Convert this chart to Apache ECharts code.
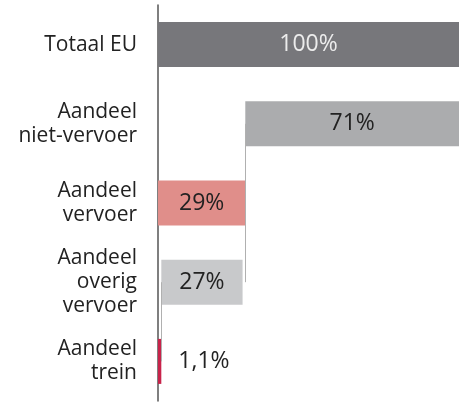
<!DOCTYPE html>
<html>
<head>
<meta charset="utf-8">
<script src="https://cdn.jsdelivr.net/npm/echarts@6/dist/echarts.min.js"></script>
<style>html,body{margin:0;padding:0;background:#fff}#c{width:459px;height:404px}</style>
</head>
<body>
<div id="c"></div>
<script>
const categories = ['Totaal EU', 'Aandeel\nniet-vervoer', 'Aandeel\nvervoer', 'Aandeel\noverig\nvervoer', 'Aandeel\ntrein'];
const values = [100, 71, 29, 27, 1.1];
const offsets = [0, 29, 0, 1.1, 0];
const barColors = ['#77777b', '#abacae', '#e08e8a', '#c8c9cb', '#c8234a'];
const labelColors = ['#ececec', '#222222', '#222222', '#222222', '#222222'];

const chart = echarts.init(document.getElementById('c'), null, {renderer: 'canvas'});
const font = '"Open Sans", "Noto Sans", sans-serif';

const connectors = [
  [[offsets[1], categories[1]], [values[2], categories[2]]],
  [[values[2], categories[2]], [offsets[1], categories[3]]],
  [[offsets[3], categories[3]], [values[4], categories[4]]]
];

chart.setOption({
  animation: false,
  grid: {left: 158, right: 0, top: 5, bottom: 3, containLabel: false},
  xAxis: {type: 'value', min: 0, max: 100, show: false},
  yAxis: {
    type: 'category', data: categories, inverse: true,
    axisLine: {show: true, lineStyle: {color: '#555', width: 1.5}},
    axisTick: {show: false},
    axisLabel: {fontFamily: font, fontSize: 21, lineHeight: 24, color: '#222', margin: 21, align: 'right'}
  },
  series: [
    {
      type: 'bar', stack: 'w', barWidth: 45, silent: true,
      itemStyle: {color: 'transparent'},
      data: offsets
    },
    {
      type: 'bar', stack: 'w', barWidth: 45,
      data: values.map((v, i) => ({
        value: v,
        itemStyle: {color: barColors[i]},
        label: {
          show: true,
          position: v < 5 ? 'right' : 'inside',
          distance: 17,
          color: labelColors[i],
          fontFamily: font,
          fontSize: 23,
          formatter: p => String(p.value).replace('.', ',') + '%'
        }
      })),
      markLine: {
        silent: true, symbol: 'none',
        lineStyle: {color: '#b0b0b0', width: 1, type: 'solid'},
        label: {show: false},
        data: connectors.map(c => [{coord: c[0]}, {coord: c[1]}])
      }
    }
  ]
});
</script>
</body>
</html>
